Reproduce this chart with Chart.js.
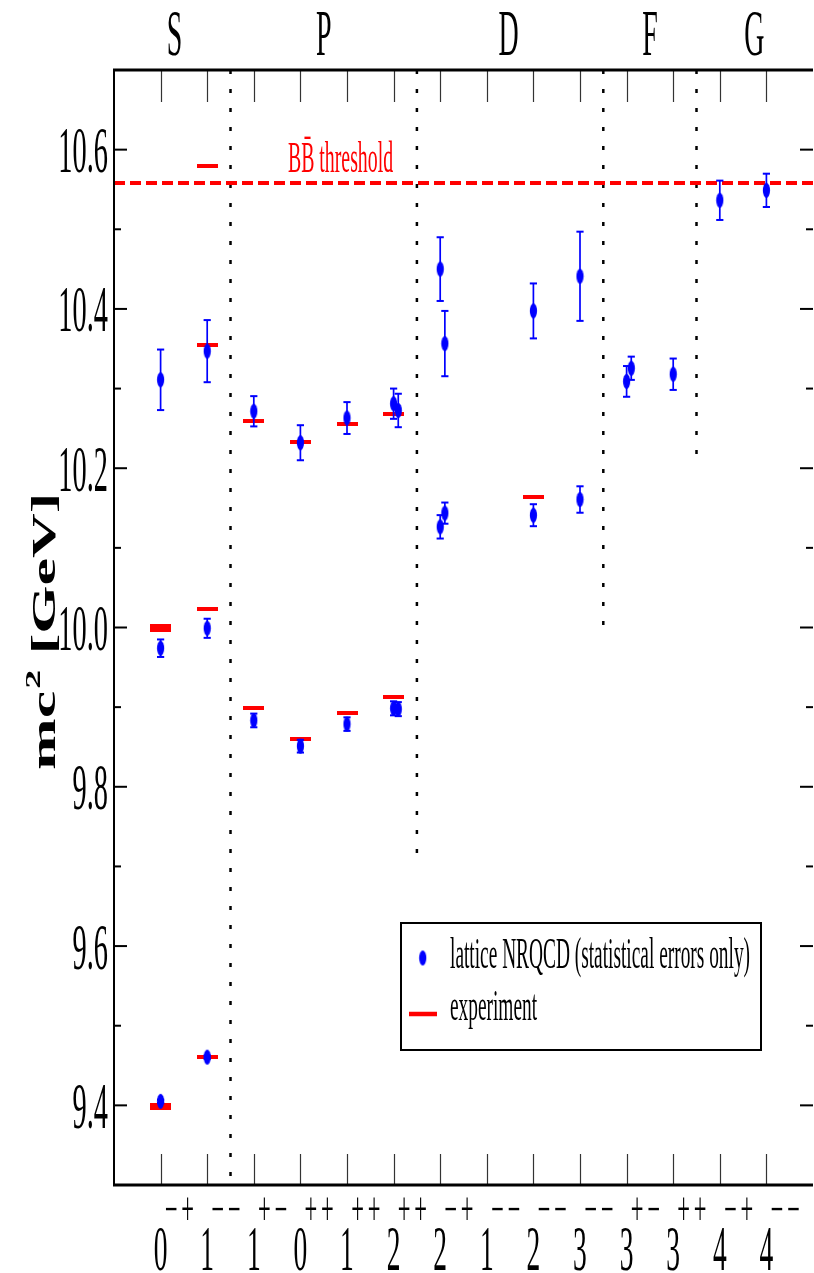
<!DOCTYPE html>
<html><head><meta charset="utf-8">
<script src="https://cdn.jsdelivr.net/npm/chart.js@4/dist/chart.umd.min.js"></script>
<style>html,body{margin:0;padding:0;background:#fff;overflow:hidden}canvas{display:block}</style>
</head><body>
<canvas id="c" width="817" height="1273"></canvas>
<script>
// ---------- data ----------
const stateJ  = ['0','1','1','0','1','2','2','1','2','3','3','3','4','4'];
const statePC = ['−+','−−','+−','++','++','++','−+','−−','−−','−−','+−','++','−+','−−'];
const waveGroups = ['S','P','D','F','G'];
const waveGroupCenters = [1.3, 4.5, 8.47, 11.5, 13.74];
const waveBoundaries = [2.5, 6.5, 10.5, 12.5];
const waveBoundaryLow = [9.3, 9.7, 10.0, 10.2];

// lattice NRQCD (x = state index, second member of a pair shifted by 0.1)
const latticeX    = [1, 1, 1, 2, 2, 2, 3, 3, 4, 4, 5, 5, 6, 6.1, 6, 6.1, 7, 7.1, 7, 7.1, 9, 9, 10, 10, 11, 11.1, 12, 13, 14];
const latticeMass = [10.311, 9.974, 9.405, 10.347, 9.999, 9.4605, 10.2715, 9.8833, 10.232, 9.851, 10.263, 9.8787,
                     10.281, 10.2725, 9.8985, 9.8975, 10.450, 10.3565, 10.1264, 10.1436, 10.3975, 10.141,
                     10.441, 10.1607, 10.309, 10.3255, 10.318, 10.5364, 10.5489];
const latticeErr  = [0.038, 0.011, 0.002, 0.039, 0.012, 0.002, 0.019, 0.0086, 0.022, 0.008, 0.020, 0.0085,
                     0.019, 0.021, 0.0088, 0.0088, 0.040, 0.041, 0.0147, 0.0133, 0.0345, 0.0138,
                     0.056, 0.0166, 0.0193, 0.0146, 0.0197, 0.0247, 0.0209];

// experiment
const expX    = [1, 1, 2, 2, 2, 2, 3, 3, 4, 4, 5, 5, 6, 6, 9];
const expMass = [9.3987, 9.999, 9.4603, 10.0233, 10.3552, 10.5794, 9.8993, 10.2598, 9.8594, 10.2325,
                 9.8928, 10.2555, 9.9122, 10.2686, 10.1637];
const expErr  = [0.0045, 0.005, 0, 0, 0, 0, 0, 0, 0, 0, 0, 0, 0, 0, 0];

const thresholdBB = 10.558;
const yMajor = [9.4, 9.6, 9.8, 10.0, 10.2, 10.4, 10.6];
const yLabels = ['9.4', '9.6', '9.8', '10.0', '10.2', '10.4', '10.6'];
const yMinor = [9.5, 9.7, 9.9, 10.1, 10.3, 10.5];
const yMin = 9.3, yMax = 10.7, xMin = 0, xMax = 15;

// ---------- styling helpers ----------
const SERIF = '"Liberation Serif","Times New Roman","DejaVu Serif",serif';
const SX = 0.43;
const BLUE = '#0000ff', RED = '#ff0000';

const ellipse = document.createElement('canvas');
ellipse.width = 9; ellipse.height = 17;
(function(){ const g = ellipse.getContext('2d'); g.fillStyle = BLUE; g.beginPath();
  g.ellipse(4.5, 8.5, 3.6, 7.6, 0, 0, Math.PI*2); g.fill(); })();

const barCache = {};
function redBar(h) {
  h = Math.max(4, Math.round(h));
  if (!barCache[h]) {
    const cv = document.createElement('canvas'); cv.width = 21; cv.height = h;
    const g = cv.getContext('2d'); g.fillStyle = RED; g.fillRect(0, 0, 21, h);
    barCache[h] = cv;
  }
  return barCache[h];
}

function stext(ctx, s, x, y, size, align, sx, color) {
  ctx.save();
  ctx.translate(x, y);
  ctx.scale(sx || SX, 1);
  ctx.font = size + 'px ' + SERIF;
  ctx.fillStyle = color || '#000';
  ctx.textAlign = align || 'left';
  ctx.textBaseline = 'alphabetic';
  ctx.fillText(s, 0, 0);
  ctx.restore();
}
function seg(ctx, x1, y1, x2, y2) { ctx.beginPath(); ctx.moveTo(x1, y1); ctx.lineTo(x2, y2); ctx.stroke(); }

const errorBars = {
  id: 'errorBars',
  beforeDatasetDraw(chart, args) {
    if (args.index !== 0) return;
    const ctx = chart.ctx, xs = chart.scales.x, ys = chart.scales.y;
    ctx.save();
    ctx.strokeStyle = BLUE;
    latticeX.forEach((xv, i) => {
      const e = latticeErr[i];
      const px = xs.getPixelForValue(xv);
      const t = ys.getPixelForValue(latticeMass[i] + e), b = ys.getPixelForValue(latticeMass[i] - e);
      ctx.lineWidth = 1.7; seg(ctx, px, t, px, b);
      ctx.lineWidth = 2; seg(ctx, px - 3.6, t, px + 3.6, t); seg(ctx, px - 3.6, b, px + 3.6, b);
    });
    ctx.restore();
  }
};

const frame = {
  id: 'frame',
  afterDraw(chart) {
    const ctx = chart.ctx, xs = chart.scales.x, ys = chart.scales.y;
    const { left, right, top, bottom } = chart.chartArea;
    ctx.save();
    // x ticks
    ctx.strokeStyle = '#333'; ctx.lineWidth = 1.2;
    stateJ.forEach((j, i) => {
      const px = Math.round(xs.getPixelForValue(i + 1)) + 0.5;
      seg(ctx, px, bottom, px, bottom - 31);
      seg(ctx, px, top, px, top + 32);
    });
    // y ticks
    ctx.strokeStyle = '#000'; ctx.lineWidth = 2;
    yMajor.forEach(v => { const py = ys.getPixelForValue(v); seg(ctx, left, py, left + 13, py); seg(ctx, right, py, right - 13, py); });
    yMinor.forEach(v => { const py = ys.getPixelForValue(v); seg(ctx, left, py, left + 7, py); seg(ctx, right, py, right - 7, py); });
    // frame
    ctx.lineWidth = 3; seg(ctx, left - 1, top, right, top); seg(ctx, left - 1, bottom, right, bottom);
    ctx.lineWidth = 2; seg(ctx, left, top, left, bottom);
    // y labels
    yMajor.forEach((v, i) => stext(ctx, yLabels[i], left - 6, ys.getPixelForValue(v) + 22.5, 66, 'right'));
    // x labels
    stateJ.forEach((j, i) => {
      const px = xs.getPixelForValue(i + 1);
      stext(ctx, j, px, 1270, 64, 'center');
      const pc = statePC[i];
      stext(ctx, pc[0], px + 10.5, 1225, 48, 'center', 0.47);
      stext(ctx, pc[1], px + 27, 1225, 48, 'center', 0.47);
    });
    // group labels
    waveGroups.forEach((g, i) => stext(ctx, g, xs.getPixelForValue(waveGroupCenters[i]), 55, 65, 'center'));
    // threshold label
    stext(ctx, 'BB\u0304 threshold', 288, 172, 45, 'left', 0.44, RED);
    // y title
    ctx.save();
    ctx.translate(55, 770); ctx.rotate(-Math.PI / 2); ctx.scale(1, 0.55);
    ctx.fillStyle = '#000'; ctx.textBaseline = 'alphabetic'; ctx.textAlign = 'left';
    ctx.font = 'bold 62px ' + SERIF;
    ctx.fillText('mc', 0, 0);
    let w = ctx.measureText('mc').width;
    ctx.font = 'bold 38px ' + SERIF;
    ctx.fillText('2', w + 2, -27);
    w += ctx.measureText('2').width + 2;
    ctx.font = 'bold 62px ' + SERIF;
    ctx.fillText(' [GeV]', w, 0);
    ctx.restore();
    // legend
    ctx.lineWidth = 2; ctx.strokeStyle = '#000';
    ctx.strokeRect(401, 923, 360, 127);
    ctx.drawImage(ellipse, 422.7 - 4.5, 958 - 8.5);
    ctx.strokeStyle = RED; ctx.lineWidth = 4.5; seg(ctx, 409, 1014, 437, 1014);
    stext(ctx, 'lattice NRQCD (statistical errors only)', 450, 968, 44, 'left', 0.44);
    stext(ctx, 'experiment', 450, 1020, 44, 'left', 0.44);
    ctx.restore();
  }
};

const datasets = [
  { label: 'lattice NRQCD (statistical errors only)', order: 0, showLine: false,
    data: latticeX.map((x, i) => ({ x, y: latticeMass[i] })),
    pointStyle: ellipse, pointRadius: 0.5, pointBorderWidth: 0 },
  { label: 'experiment', order: 1, showLine: false,
    data: expX.map((x, i) => ({ x, y: expMass[i] })),
    pointRadius: 0.5, pointBorderWidth: 0,
    pointStyle: c => {
      const ys = c.chart.scales.y, i = c.dataIndex, e = expErr[i] || 0;
      if (!ys || !e) return redBar(4);
      const h = Math.abs(ys.getPixelForValue(expMass[i] - e) - ys.getPixelForValue(expMass[i] + e));
      return redBar(isFinite(h) ? h : 4);
    } },
  { label: 'threshold', order: 2, showLine: true, pointRadius: 0,
    data: [{ x: xMin, y: thresholdBB }, { x: xMax, y: thresholdBB }],
    borderColor: RED, borderWidth: 4, borderDash: [11, 5] }
].concat(waveBoundaries.map((b, i) => ({
  label: 'sep' + i, order: 3, showLine: true, pointRadius: 0,
  data: [{ x: b, y: yMax }, { x: b, y: waveBoundaryLow[i] }],
  borderColor: '#000', borderWidth: 2.5, borderDash: [4, 15]
})));

new Chart(document.getElementById('c'), {
  type: 'scatter',
  data: { datasets },
  options: {
    responsive: false, animation: false, devicePixelRatio: 1, events: [],
    layout: { padding: { left: 114, top: 70, right: 0, bottom: 88 } },
    scales: {
      x: { type: 'linear', min: xMin, max: xMax, display: false },
      y: { type: 'linear', min: yMin, max: yMax, display: false }
    },
    plugins: { legend: { display: false }, tooltip: { enabled: false } }
  },
  plugins: [errorBars, frame]
});
</script>
</body></html>
